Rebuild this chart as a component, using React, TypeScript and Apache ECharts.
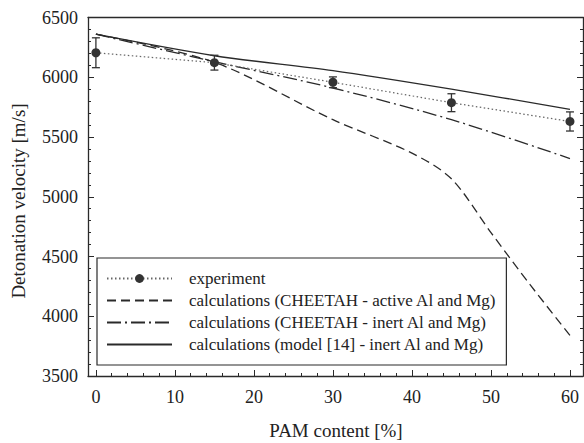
import React, { useEffect, useRef } from "react";
import * as echarts from "echarts";

const pamContent = [0, 15, 30, 45, 60];
const experiment = [6205, 6122, 5958, 5787, 5630];
const experimentErr = [125, 62, 45, 75, 80];

const activeX = [0, 15, 30, 40, 45, 50, 55, 60];
const cheetahActive = [6360, 6125, 5645, 5365, 5150, 4700, 4260, 3840];
const cheetahInert = [6360, 6130, 5910, 5645, 5320];
const model14 = [6360, 6180, 6055, 5900, 5732];

const xMajorTicks = [0, 10, 20, 30, 40, 50, 60];
const xMinorTicks = [0, 2, 4, 6, 8, 10, 12, 14, 16, 18, 20, 22, 24, 26, 28, 30, 32, 34, 36, 38, 40, 42, 44, 46, 48, 50, 52, 54, 56, 58, 60];

const names = [
  "experiment",
  "calculations (CHEETAH - active Al and Mg)",
  "calculations (CHEETAH - inert Al and Mg)",
  "calculations (model [14] - inert Al and Mg)",
];

const FONT = "Liberation Serif";
const INK = "#2a2a2a";

export default function App() {
  const ref = useRef<HTMLDivElement>(null);
  useEffect(() => {
    if (!ref.current) return;
    const chart = echarts.init(ref.current, null, { renderer: "svg" });
    const pairs = (xs: number[], ys: number[]) => xs.map((x, i) => [x, ys[i]]);
    const errData = pamContent.map((x, i) => [x, experiment[i] - experimentErr[i], experiment[i] + experimentErr[i]]);
    const xMin = -1;
    const xMax = 61.65;
    const lineStyleBase = { color: INK, width: 1.3 };
    const plain = (v: number) => String(v);
    chart.setOption({
      animation: false,
      backgroundColor: "#ffffff",
      textStyle: { fontFamily: FONT },
      grid: { left: 88, right: 1, top: 17.5, bottom: 67, containLabel: false },
      xAxis: [
        {
          type: "value",
          min: xMin,
          max: xMax,
          position: "bottom",
          axisLine: { show: true, onZero: false, lineStyle: { color: INK, width: 1.3 } },
          axisTick: { show: true, inside: true, length: 6, customValues: xMajorTicks, lineStyle: { color: INK } },
          axisLabel: { show: true, customValues: xMajorTicks, formatter: plain, margin: 12, fontFamily: FONT, fontSize: 18, color: "#222" },
          splitLine: { show: false },
        },
        {
          type: "value",
          min: xMin,
          max: xMax,
          position: "bottom",
          axisLine: { show: false, onZero: false },
          axisTick: { show: true, inside: true, length: 3, customValues: xMinorTicks, lineStyle: { color: INK } },
          axisLabel: { show: false },
          splitLine: { show: false },
        },
        {
          type: "value",
          min: xMin,
          max: xMax,
          position: "top",
          axisLine: { show: true, onZero: false, lineStyle: { color: INK, width: 1.3 } },
          axisTick: { show: false },
          axisLabel: { show: false },
          splitLine: { show: false },
        },
      ],
      yAxis: [
        {
          type: "value",
          min: 3500,
          max: 6500,
          interval: 500,
          position: "left",
          axisLine: { show: true, onZero: false, lineStyle: { color: INK, width: 1.3 } },
          axisTick: { show: true, inside: true, length: 6, lineStyle: { color: INK } },
          minorTick: { show: true, splitNumber: 5, length: 3, lineStyle: { color: INK } },
          axisLabel: { margin: 10, formatter: plain, fontFamily: FONT, fontSize: 18, color: "#222" },
          splitLine: { show: false },
        },
        {
          type: "value",
          min: 3500,
          max: 6500,
          interval: 500,
          position: "right",
          axisLine: { show: true, onZero: false, lineStyle: { color: INK, width: 1.3 } },
          axisTick: { show: true, inside: true, length: 6, lineStyle: { color: INK } },
          minorTick: { show: true, splitNumber: 5, length: 3, lineStyle: { color: INK } },
          axisLabel: { show: false },
          splitLine: { show: false },
        },
      ],
      legend: {
        show: true,
        data: [
          { name: names[0] },
          { name: names[1], itemStyle: { opacity: 0 } },
          { name: names[2], itemStyle: { opacity: 0 } },
          { name: names[3], itemStyle: { opacity: 0 } },
        ],
        orient: "vertical",
        left: 97,
        top: 258,
        padding: [12, 10, 12, 9],
        itemGap: 5,
        itemWidth: 65,
        itemHeight: 11,
        backgroundColor: "#ffffff",
        borderColor: INK,
        borderWidth: 1.2,
        borderRadius: 0,
        selectedMode: false,
        textStyle: { fontFamily: FONT, fontSize: 17, color: "#222", padding: [0, 0, 0, 12], lineHeight: 17 },
      },
      graphic: [
        {
          type: "text",
          x: 18,
          y: 201,
          rotation: Math.PI / 2,
          style: {
            text: "Detonation velocity [m/s]",
            fontFamily: FONT,
            fontSize: 19,
            fill: "#222",
            textAlign: "center",
            textVerticalAlign: "middle",
          },
        },
        {
          type: "text",
          x: 336,
          y: 430,
          style: {
            text: "PAM content [%]",
            fontFamily: FONT,
            fontSize: 19,
            fill: "#222",
            textAlign: "center",
            textVerticalAlign: "middle",
          },
        },
      ],
      series: [
        {
          name: names[0],
          type: "line",
          data: pairs(pamContent, experiment),
          symbol: "circle",
          symbolSize: 9,
          itemStyle: { color: "#333" },
          lineStyle: { color: "#666", width: 1.2, type: [1.5, 2.5] },
          z: 5,
        },
        {
          name: names[1],
          type: "line",
          data: pairs(activeX, cheetahActive),
          symbol: "none",
          smooth: 0.3,
          itemStyle: { color: INK },
          lineStyle: { ...lineStyleBase, type: [9, 5] },
        },
        {
          name: names[2],
          type: "line",
          data: pairs(pamContent, cheetahInert),
          symbol: "none",
          smooth: 0.3,
          itemStyle: { color: INK },
          lineStyle: { ...lineStyleBase, type: [14, 4, 2, 4] },
        },
        {
          name: names[3],
          type: "line",
          data: pairs(pamContent, model14),
          symbol: "none",
          smooth: 0.3,
          itemStyle: { color: INK },
          lineStyle: { ...lineStyleBase },
        },
        {
          name: "error",
          type: "custom",
          data: errData,
          z: 4,
          renderItem: (params: any, api: any) => {
            const x = api.value(0);
            const lo = api.coord([x, api.value(1)]);
            const hi = api.coord([x, api.value(2)]);
            const w = 4;
            const st = { stroke: "#333", lineWidth: 1.3 };
            return {
              type: "group",
              children: [
                { type: "line", shape: { x1: lo[0], y1: lo[1], x2: hi[0], y2: hi[1] }, style: st },
                { type: "line", shape: { x1: lo[0] - w, y1: lo[1], x2: lo[0] + w, y2: lo[1] }, style: st },
                { type: "line", shape: { x1: hi[0] - w, y1: hi[1], x2: hi[0] + w, y2: hi[1] }, style: st },
              ],
            };
          },
        },
      ],
    });
    return () => chart.dispose();
  }, []);
  return <div ref={ref} style={{ position: "fixed", left: 0, top: 0, width: 584, height: 443 }} />;
}
